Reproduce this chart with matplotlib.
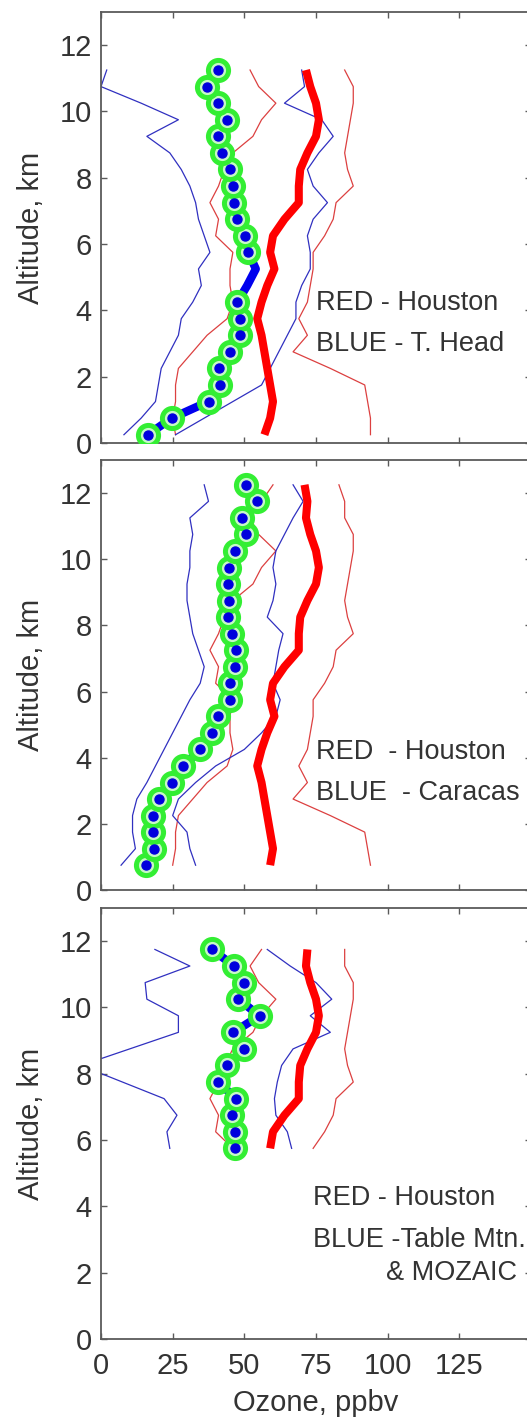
import numpy as np
import matplotlib
matplotlib.use("Agg")
import matplotlib.pyplot as plt

# ---------------- data ----------------
# Houston profiles (common 0.5 km grid, 0.25 .. 12.25 km)
houston_alt = [0.25, 0.75, 1.25, 1.75, 2.25, 2.75, 3.25, 3.75, 4.25, 4.75, 5.25, 5.75,
               6.25, 6.75, 7.25, 7.75, 8.25, 8.75, 9.25, 9.75, 10.25, 10.75, 11.25, 11.75, 12.25]
houston_med = [57, 59, 60, 59, 58, 57, 56, 54.5, 56, 58, 60.5, 59,
               60, 64, 69, 69, 69.5, 72, 75, 76, 75, 73, 71.5, 72, 71]
houston_low = [26, 25, 26, 26, 27, 32, 37, 44, 46, 45, 45, 46,
               40, 41, 38, 41, 43, 46, 53, 56, 61, 55, 52, 56, 60]
houston_high = [94, 94, 93, 92, 80, 67, 72, 69, 72, 73, 74, 74,
                78, 81, 82, 88, 86, 85, 86, 87, 88, 88, 85, 85, 83]

# Trinidad Head
thead_alt = [0.25, 0.75, 1.25, 1.75, 2.25, 2.75, 3.25, 3.75, 4.25, 4.75, 5.25, 5.75,
             6.25, 6.75, 7.25, 7.75, 8.25, 8.75, 9.25, 9.75, 10.25, 10.75, 11.25]
thead_med = [16.3, 24.7, 37.5, 41.5, 41.2, 45, 48.5, 48.5, 47.6, 51, 54, 51.4,
             50.3, 47.4, 46.4, 46.2, 45, 42.1, 40.9, 43.9, 40.9, 36.9, 40.9]
thead_low = [8, 14, 19, 20, 21, 24, 27, 28, 32, 35, 34, 38,
             36, 34, 33, 31, 28, 24, 16, 27, 14, 0, 2]
thead_high = [26, 36, 46, 56, 59, 62, 65, 68, 68, 70, 73, 73,
              72, 74, 79, 74, 72, 76, 81, 77, 64, 71, 70]
thead_marked = [True] * 9 + [False] * 2 + [True] * 12

# Caracas
car_alt = [0.75, 1.25, 1.75, 2.25, 2.75, 3.25, 3.75, 4.25, 4.75, 5.25, 5.75, 6.25,
           6.75, 7.25, 7.75, 8.25, 8.75, 9.25, 9.75, 10.25, 10.75, 11.25, 11.75, 12.25]
car_med = [15.6, 18.5, 18.0, 18.3, 20.4, 24.7, 28.7, 34.6, 38.6, 40.9, 45.0, 45.0,
           46.8, 47.1, 45.8, 44.4, 44.8, 44.4, 44.8, 46.8, 50.6, 49.3, 54.3, 50.6]
car_low = [7, 12, 11, 11, 12.5, 16, 19, 22, 25, 28, 31, 34.6,
           36, 34, 32, 31, 30, 30, 31, 31, 32, 31, 37.5, 36]
car_high = [33, 31, 30, 25, 27, 33, 40, 50, 56, 61, 62.5, 60,
            61, 62, 63.5, 58, 60, 61, 60, 61, 64, 67, 70.5, 67]

# Table Mountain & MOZAIC
tm_alt = [5.75, 6.25, 6.75, 7.25, 7.75, 8.25, 8.75, 9.25, 9.75, 10.25, 10.75, 11.25, 11.75]
tm_med = [46.8, 46.8, 45.6, 47.1, 40.9, 43.9, 50.0, 46.2, 55.3, 47.9, 50.0, 46.5, 38.6]
tm_low = [24, 23, 26.5, 22, 7.5, -7, 10, 27, 27, 16, 15.4, 31, 18.8]
tm_high = [66.5, 65, 61, 60.5, 61.5, 63, 67, 80, 73, 80.5, 75, 66, 58]

x_ticks = [0, 25, 50, 75, 100, 125, 150]
x_ticklabels = ["0", "25", "50", "75", "100", "125", ""]
y_ticks = [0, 2, 4, 6, 8, 10, 12]

panels = [
    dict(alt=thead_alt, med=thead_med, low=thead_low, high=thead_high, marked=thead_marked,
         h_slice=(0, 23), labels=[("RED - Houston", 75, 4.23), ("BLUE - T. Head", 75, 3.0)]),
    dict(alt=car_alt, med=car_med, low=car_low, high=car_high, marked=None,
         h_slice=(1, 25), labels=[("RED  - Houston", 75, 4.18), ("BLUE  - Caracas", 75, 2.93)]),
    dict(alt=tm_alt, med=tm_med, low=tm_low, high=tm_high, marked=None,
         h_slice=(11, 24), labels=[("RED - Houston", 74, 4.25), ("BLUE -Table Mtn.", 74, 2.98),
                                    ("& MOZAIC", 99.5, 1.98)]),
]

# ---------------- figure ----------------
plt.rcParams['font.family'] = ['Liberation Sans', 'DejaVu Sans']
W, H = 527, 1418
fig = plt.figure(figsize=(W / 100, H / 100), dpi=100)

spine_col = '#5a5a5a'
text_col = '#333333'
tops = [12, 460, 908]
bots = [443, 890, 1339]
left_px, right_px = 101, 531

for i, (p, tp, bp) in enumerate(zip(panels, tops, bots)):
    ax = fig.add_axes([left_px / W, 1 - bp / H, (right_px - left_px) / W, (bp - tp) / H])
    a0, a1 = p['h_slice']
    ha = houston_alt[a0:a1]
    ax.plot(houston_low[a0:a1], ha, color='#dc4040', lw=0.9, zorder=2)
    ax.plot(houston_high[a0:a1], ha, color='#dc4040', lw=0.9, zorder=2)
    ax.plot(p['low'], p['alt'], color='#3030c0', lw=0.9, zorder=2)
    ax.plot(p['high'], p['alt'], color='#3030c0', lw=0.9, zorder=2)
    ax.plot(houston_med[a0:a1], ha, color='#ff0000', lw=5.8, zorder=3, solid_capstyle='butt')
    ax.plot(p['med'], p['alt'], color='#0000ee', lw=6, zorder=4)
    mk = p['marked']
    if mk is None:
        mk = [True] * len(p['alt'])
    mx = [v for v, m in zip(p['med'], mk) if m]
    my = [v for v, m in zip(p['alt'], mk) if m]
    ax.plot(mx, my, ls='none', marker='o', ms=14.5, mfc='#c8f8c8', mec='#33ee33', mew=3.6, zorder=5)
    ax.plot(mx, my, ls='none', marker='o', ms=6.5, mfc='#0000dd', mec='#0000dd', zorder=6)

    for txt, tx, ty in p['labels']:
        ax.text(tx, ty, txt, fontsize=19.5, color=text_col, ha='left', va='center', zorder=7)

    ax.set_xlim(0, 150)
    ax.set_ylim(0, 13)
    ax.set_xticks(x_ticks)
    ax.set_yticks(y_ticks)
    ax.set_yticklabels([str(v) for v in y_ticks])
    if i == 2:
        ax.set_xticklabels(x_ticklabels)
        ax.set_xlabel("Ozone, ppbv", fontsize=21, color=text_col, labelpad=7)
    else:
        ax.set_xticklabels([])
    ax.tick_params(direction='in', length=4, width=1, color=spine_col,
                   top=True, right=True, labelsize=21, labelcolor=text_col)
    ax.tick_params(axis='y', pad=6.5)
    ax.tick_params(axis='x', pad=9)
    for s in ax.spines.values():
        s.set_color(spine_col)
        s.set_linewidth(1.3)
    fig.text(31 / W, 1 - (tp + bp) / 2 / H, "Altitude, km", rotation=90, fontsize=21,
             color=text_col, ha='center', va='center')

fig.savefig("out.png", dpi=100)
